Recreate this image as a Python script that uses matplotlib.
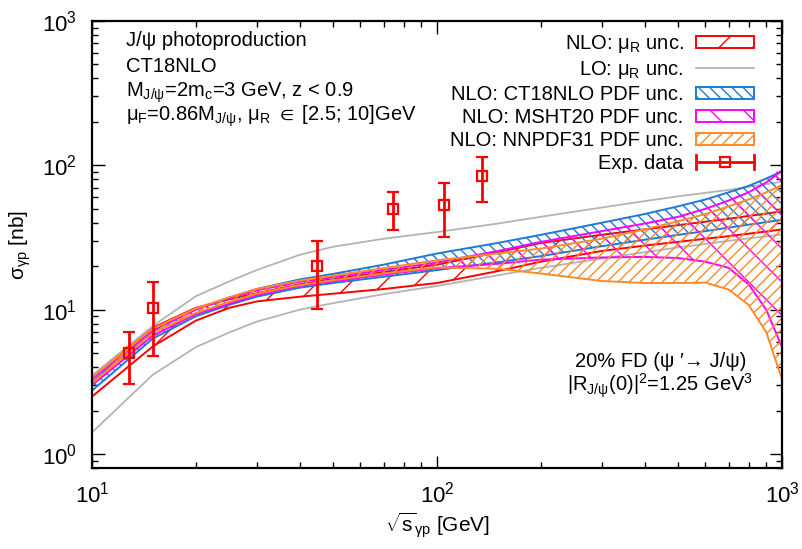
import matplotlib
matplotlib.use('Agg')
import matplotlib.pyplot as plt
from matplotlib.patches import Patch
from matplotlib.lines import Line2D
from matplotlib.legend_handler import HandlerBase

plt.rcParams['font.family'] = ['Liberation Sans', 'DejaVu Sans']
plt.rcParams['mathtext.fontset'] = 'custom'
plt.rcParams['mathtext.rm'] = 'Liberation Sans'
plt.rcParams['mathtext.it'] = 'Liberation Sans:italic'
plt.rcParams['mathtext.bf'] = 'Liberation Sans:bold'
plt.rcParams['mathtext.default'] = 'regular'
plt.rcParams['mathtext.fallback'] = 'cm'
plt.rcParams['hatch.linewidth'] = 1.0

# ---------------- data ----------------
energy = [10, 15, 20, 25, 30, 40, 50, 70, 100, 150, 200, 300, 400, 500, 600, 700, 800, 900, 1000]

nlo_mur_lo = [2.5, 5.56, 8.4, 10.3, 11.4, 12.3, 12.9, 13.9, 15.3, 18.5, 21.5, 25.5, 27.8, 29.5, 31.0, 32.3, 33.6, 34.8, 36.0]
nlo_mur_hi = [3.45, 7.5, 10.3, 11.8, 13.0, 15.0, 16.3, 18.2, 20.5, 25.0, 29.0, 33.0, 36.0, 38.5, 40.7, 42.6, 44.6, 46.3, 48.0]

lo_mur_lo = [1.41, 3.54, 5.5, 6.96, 8.26, 10.0, 11.1, 12.8, 14.6, 17.3, 19.5, 22.6, 25.0, 27.0, 28.5, 30.0, 31.2, 32.2, 33.2]
lo_mur_hi = [3.5, 7.7, 12.4, 15.7, 18.8, 24.0, 27.3, 31.0, 34.5, 39.5, 44.0, 51.0, 56.5, 61.0, 64.5, 67.5, 71.0, 74.0, 77.0]

ct18_lo = [2.75, 6.3, 9.0, 10.8, 12.3, 14.2, 15.3, 16.9, 18.8, 21.3, 23.5, 27.5, 30.5, 33.0, 35.0, 37.0, 38.8, 40.4, 42.0]
ct18_hi = [3.15, 7.1, 10.1, 12.1, 13.9, 16.2, 17.7, 20.5, 24.5, 29.0, 33.0, 40.0, 46.0, 52.0, 58.0, 65.0, 72.0, 81.0, 91.0]

msht20_lo = [3.0, 6.6, 9.3, 11.0, 12.6, 14.6, 15.7, 17.5, 19.4, 20.8, 22.2, 23.0, 23.2, 22.8, 21.5, 19.5, 15.0, 10.0, 5.5]
msht20_hi = [3.3, 7.2, 10.0, 12.0, 13.6, 15.6, 16.8, 18.8, 21.2, 25.5, 29.5, 35.0, 39.5, 44.0, 50.0, 57.0, 65.0, 76.0, 92.0]

nnpdf31_lo = [3.1, 6.9, 9.5, 11.3, 12.9, 14.8, 16.0, 17.8, 19.6, 19.2, 17.8, 15.8, 15.3, 15.3, 15.4, 13.8, 10.8, 7.0, 3.3]
nnpdf31_hi = [3.4, 7.4, 10.2, 12.2, 13.9, 15.9, 17.2, 19.4, 22.0, 24.5, 26.5, 31.0, 36.0, 41.0, 46.0, 52.0, 58.0, 65.0, 73.0]

exp_x = [12.8, 15.0, 44.8, 74.7, 105.0, 135.0]
exp_y = [5.05, 10.3, 20.1, 49.5, 53.0, 84.0]
exp_low = [3.06, 4.79, 10.05, 35.9, 32.0, 56.0]
exp_high = [7.03, 15.6, 29.8, 65.0, 75.0, 114.0]

labels = ['NLO: μ$_R$ unc.', 'LO: μ$_R$ unc.', 'NLO: CT18NLO PDF unc.',
          'NLO: MSHT20 PDF unc.', 'NLO: NNPDF31 PDF unc.', 'Exp. data']

# ---------------- style ----------------
c_red = '#ff0000'
c_gray = '#b4b4b4'
c_blue = '#1e7ad8'
c_mag = '#ff00ff'
c_orange = '#ff8a2a'

W, H = 802, 549
fig = plt.figure(figsize=(W / 100, H / 100), dpi=100)
L, R, T, B = 92, 782, 21, 468
ax = fig.add_axes([L / W, 1 - B / H, (R - L) / W, (B - T) / H])
ax.set_xscale('log')
ax.set_yscale('log')

ax.fill_between(energy, nlo_mur_lo, nlo_mur_hi, facecolor='none', edgecolor=c_red,
                hatch='/', linewidth=1.4, zorder=2)
ax.plot(energy, lo_mur_lo, color=c_gray, lw=1.3, zorder=2.1)
ax.plot(energy, lo_mur_hi, color=c_gray, lw=1.3, zorder=2.1)
ax.fill_between(energy, ct18_lo, ct18_hi, facecolor='none', edgecolor=c_blue,
                hatch='\\\\\\', linewidth=1.4, zorder=2.2)
ax.fill_between(energy, msht20_lo, msht20_hi, facecolor='none', edgecolor=c_mag,
                hatch='\\', linewidth=1.4, zorder=2.3)
ax.fill_between(energy, nnpdf31_lo, nnpdf31_hi, facecolor='none', edgecolor=c_orange,
                hatch='///', linewidth=1.4, zorder=2.4)

yerr = [[v - lo for v, lo in zip(exp_y, exp_low)], [hi - v for v, hi in zip(exp_y, exp_high)]]
ax.errorbar(exp_x, exp_y, yerr=yerr, fmt='s', color=c_red, mfc='none', mec=c_red,
            ms=7.5, mew=1.6, elinewidth=2, capsize=4.5, capthick=2, zorder=3)

ax.set_xlim(10, 1000)
ax.set_ylim(0.8, 1000)

for s in ax.spines.values():
    s.set_linewidth(1.6)
ax.tick_params(which='both', direction='in', top=True, right=True, labelsize=16)
ax.tick_params(which='major', length=9, width=1.0)
ax.tick_params(which='minor', length=4.5, width=1.0)
ax.tick_params(axis='x', pad=10)
ax.tick_params(axis='y', pad=11)

ax.set_xlabel(r'$\sqrt{\mathrm{s}}_{γp}$ [GeV]', fontsize=15, labelpad=2)
ax.set_ylabel('σ$_{γp}$ [nb]', fontsize=15, labelpad=6)


# ------------- legend -------------
class ErrProxy:
    pass


class ErrHandler(HandlerBase):
    def create_artists(self, legend, orig_handle, xdescent, ydescent, width, height, fontsize, trans):
        x0 = -xdescent
        x1 = -xdescent + width
        yc = -ydescent + height / 2
        h = height * 0.55
        arts = [Line2D([x0, x1], [yc, yc], color=c_red, lw=2),
                Line2D([x0, x0], [yc - h, yc + h], color=c_red, lw=2),
                Line2D([x1, x1], [yc - h, yc + h], color=c_red, lw=2),
                Line2D([(x0 + x1) / 2], [yc], marker='s', ms=7.5, mfc='none', mec=c_red, mew=1.6, color=c_red)]
        for a in arts:
            a.set_transform(trans)
        return arts


handles = [Patch(facecolor='none', edgecolor=c_red, hatch='/', lw=1.4),
           Line2D([], [], color=c_gray, lw=1.3),
           Patch(facecolor='none', edgecolor=c_blue, hatch='\\\\\\', lw=1.4),
           Patch(facecolor='none', edgecolor=c_mag, hatch='\\', lw=1.4),
           Patch(facecolor='none', edgecolor=c_orange, hatch='///', lw=1.4),
           ErrProxy()]
leg = ax.legend(handles, labels, loc='upper right', bbox_to_anchor=(754 / W, 1 - 33 / H),
                bbox_transform=fig.transFigure, frameon=False, markerfirst=False,
                fontsize=14.5, handlelength=2.9, handleheight=0.55, handletextpad=0.6,
                labelspacing=0.2, borderpad=0, borderaxespad=0,
                handler_map={ErrProxy: ErrHandler()})
for t in leg.get_texts():
    t.set_ha('right')

# ------------- annotations -------------
fs = 14.5
left_lines = ['J/ψ photoproduction', 'CT18NLO', 'M$_{J/ψ}$=2m$_c$=3 GeV, z < 0.9',
              r'μ$_F$=0.86M$_{J/ψ}$, μ$_R$ $\in$ [2.5; 10]GeV']
for txt, yb in zip(left_lines, [46, 72, 97, 121]):
    fig.text(126 / W, 1 - yb / H, txt, fontsize=fs, va='baseline', ha='left')

fig.text(575 / W, 1 - 367 / H, '20% FD (ψ ′→ J/ψ)', fontsize=fs, va='baseline', ha='left')
fig.text(567 / W, 1 - 392 / H, '|R$_{J/ψ}$(0)|$^2$=1.25 GeV$^3$', fontsize=fs, va='baseline', ha='left')

fig.savefig('out.png', dpi=100)
